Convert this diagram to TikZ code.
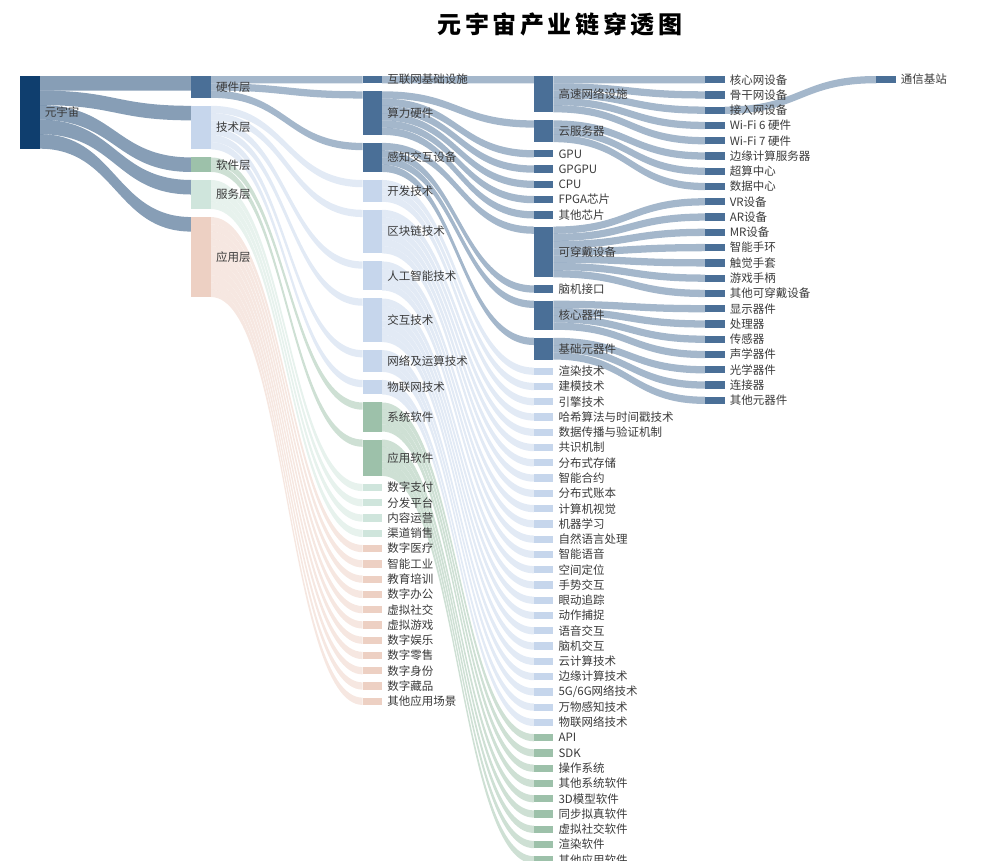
\documentclass[tikz,border=0pt]{standalone}
\usepackage{fontspec}
\setmainfont{Noto Sans CJK SC}
\newfontfamily\titlefont{Noto Sans CJK SC}[LetterSpace=15]
\usepackage{tikz}
\usetikzlibrary{positioning, calc, backgrounds}

\definecolor{mvc}{HTML}{0F3E6E}
\definecolor{hwc}{HTML}{4A6F97}
\definecolor{tcc}{HTML}{C6D6EC}
\definecolor{swc}{HTML}{9DC1AA}
\definecolor{svc}{HTML}{CFE5DC}
\definecolor{apc}{HTML}{EDD0C3}
\definecolor{labc}{HTML}{3A3A3A}

% height of one unit of flow
\def\un{7.27}

% band from source (offset in units) to target, value in units
\newcommand\flow[5]{%
  \fill[#5, fill opacity=.5]
    ($(#1.north east)+(0,{(#2)*\un})$) coordinate (fa)
    .. controls +(75.8,0) and +(-75.8,0) .. (#3.north west)
    -- ($(#3.north west)+(0,{(#4)*\un})$)
    .. controls +(-75.8,0) and +(75.8,0) .. ($(fa)+(0,{(#4)*\un})$) -- cycle;}

\begin{document}
\begin{tikzpicture}[x=1pt, y=-1pt, label distance=5pt,
    bar/.style={rectangle, inner sep=0pt, outer sep=0pt, minimum width=19.5pt,
      minimum height={(#1)*\un pt}},
    every label/.style={font=\fontsize{11.5}{13}\selectfont, text=labc, inner sep=0pt}]
  \useasboundingbox (0,0) rectangle (1003,860);

  % Title
  \node (title) at (560,24) {\titlefont\bfseries\fontsize{24}{28}\selectfont 元宇宙产业链穿透图};

  % Column tops
  \foreach \k in {0,...,5}
    \coordinate (top\k) at ({30+171.2*\k},68);

  % Define the nodes
  \node[bar=10, fill=mvc, label=right:元宇宙, below=8pt of top0] (mv) {};

  \foreach \nm/\val/\col/\lab [remember=\nm as \prev (initially top1)] in
    {hw/3/hwc/硬件层, tech/6/tcc/技术层, soft/2/swc/软件层, serv/4/svc/服务层,
     appl/11/apc/应用层}
    \node[bar=\val, fill=\col, label=right:\lab, below=8pt of \prev] (\nm) {};

  \foreach \nm/\val/\col/\lab [remember=\nm as \prev (initially top2)] in
    {inet/1/hwc/互联网基础设施, comp/6/hwc/算力硬件, sense/4/hwc/感知交互设备,
     dev/3/tcc/开发技术, chain/6/tcc/区块链技术, ai/4/tcc/人工智能技术,
     inter/6/tcc/交互技术, net/3/tcc/网络及运算技术, iot/2/tcc/物联网技术,
     sys/4/swc/系统软件, apps/5/swc/应用软件,
     s1/1/svc/数字支付, s2/1/svc/分发平台, s3/1/svc/内容运营, s4/1/svc/渠道销售,
     a1/1/apc/数字医疗, a2/1/apc/智能工业, a3/1/apc/教育培训, a4/1/apc/数字办公,
     a5/1/apc/虚拟社交, a6/1/apc/虚拟游戏, a7/1/apc/数字娱乐, a8/1/apc/数字零售,
     a9/1/apc/数字身份, a10/1/apc/数字藏品, a11/1/apc/其他应用场景}
    \node[bar=\val, fill=\col, label=right:\lab, below=8pt of \prev] (\nm) {};

  \foreach \nm/\val/\col/\lab [remember=\nm as \prev (initially top3)] in
    {hsn/5/hwc/高速网络设施, cloud/3/hwc/云服务器, gpu/1/hwc/GPU, gpgpu/1/hwc/GPGPU,
     cpu/1/hwc/CPU, fpga/1/hwc/FPGA芯片, chip/1/hwc/其他芯片, wear/7/hwc/可穿戴设备,
     bci/1/hwc/脑机接口, core/4/hwc/核心器件, base/3/hwc/基础元器件,
     r1/1/tcc/渲染技术, r2/1/tcc/建模技术, r3/1/tcc/引擎技术,
     b1/1/tcc/哈希算法与时间戳技术, b2/1/tcc/数据传播与验证机制, b3/1/tcc/共识机制,
     b4/1/tcc/分布式存储, b5/1/tcc/智能合约, b6/1/tcc/分布式账本,
     v1/1/tcc/计算机视觉, v2/1/tcc/机器学习, v3/1/tcc/自然语言处理, v4/1/tcc/智能语音,
     x1/1/tcc/空间定位, x2/1/tcc/手势交互, x3/1/tcc/眼动追踪, x4/1/tcc/动作捕捉,
     x5/1/tcc/语音交互, x6/1/tcc/脑机交互,
     n1/1/tcc/云计算技术, n2/1/tcc/边缘计算技术, n3/1/tcc/5G\slash 6G网络技术,
     o1/1/tcc/万物感知技术, o2/1/tcc/物联网络技术,
     y1/1/swc/API, y2/1/swc/SDK, y3/1/swc/操作系统, y4/1/swc/其他系统软件,
     p1/1/swc/3D模型软件, p2/1/swc/同步拟真软件, p3/1/swc/虚拟社交软件,
     p4/1/swc/渲染软件, p5/1/swc/其他应用软件}
    \node[bar=\val, fill=\col, label=right:\lab, below=8pt of \prev] (\nm) {};

  \foreach \nm/\lab [remember=\nm as \prev (initially top4)] in
    {h1/核心网设备, h2/骨干网设备, h3/接入网设备, h4/Wi-Fi 6 硬件, h5/Wi-Fi 7 硬件,
     c1/边缘计算服务器, c2/超算中心, c3/数据中心,
     w1/VR设备, w2/AR设备, w3/MR设备, w4/智能手环, w5/触觉手套, w6/游戏手柄,
     w7/其他可穿戴设备, k1/显示器件, k2/处理器, k3/传感器, k4/声学器件,
     e1/光学器件, e2/连接器, e3/其他元器件}
    \node[bar=1, fill=hwc, label=right:\lab, below=8pt of \prev] (\nm) {};

  \node[bar=1, fill=hwc, label=right:通信基站, below=8pt of top5] (bs) {};

  % Define the flows
  \begin{pgfonlayer}{background}
    \foreach \t [count=\i from 0] in {hw,tech,soft,serv,appl}
      \flow{mv}{2*\i}{\t}{2}{mvc};
    \foreach \t [count=\i from 0] in {inet,comp,sense}
      \flow{hw}{\i}{\t}{1}{hwc};
    \foreach \t [count=\i from 0] in {dev,chain,ai,inter,net,iot}
      \flow{tech}{\i}{\t}{1}{tcc};
    \foreach \t [count=\i from 0] in {sys,apps}
      \flow{soft}{\i}{\t}{1}{swc};
    \foreach \i in {1,...,4}
      \flow{serv}{\i-1}{s\i}{1}{svc};
    \foreach \i in {1,...,11}
      \flow{appl}{\i-1}{a\i}{1}{apc};

    \flow{inet}{0}{hsn}{1}{hwc};
    \foreach \t [count=\i from 0] in {cloud,gpu,gpgpu,cpu,fpga,chip}
      \flow{comp}{\i}{\t}{1}{hwc};
    \foreach \t [count=\i from 0] in {wear,bci,core,base}
      \flow{sense}{\i}{\t}{1}{hwc};
    \foreach \i in {1,...,3} \flow{dev}{\i-1}{r\i}{1}{tcc};
    \foreach \i in {1,...,6} \flow{chain}{\i-1}{b\i}{1}{tcc};
    \foreach \i in {1,...,4} \flow{ai}{\i-1}{v\i}{1}{tcc};
    \foreach \i in {1,...,6} \flow{inter}{\i-1}{x\i}{1}{tcc};
    \foreach \i in {1,...,3} \flow{net}{\i-1}{n\i}{1}{tcc};
    \foreach \i in {1,2} \flow{iot}{\i-1}{o\i}{1}{tcc};
    \foreach \i in {1,...,4} \flow{sys}{\i-1}{y\i}{1}{swc};
    \foreach \i in {1,...,5} \flow{apps}{\i-1}{p\i}{1}{swc};

    \foreach \i in {1,...,5} \flow{hsn}{\i-1}{h\i}{1}{hwc};
    \foreach \i in {1,...,3} \flow{cloud}{\i-1}{c\i}{1}{hwc};
    \foreach \i in {1,...,7} \flow{wear}{\i-1}{w\i}{1}{hwc};
    \foreach \i in {1,...,4} \flow{core}{\i-1}{k\i}{1}{hwc};
    \foreach \i in {1,...,3} \flow{base}{\i-1}{e\i}{1}{hwc};

    \flow{h3}{0}{bs}{1}{hwc};
  \end{pgfonlayer}
\end{tikzpicture}
\end{document}
